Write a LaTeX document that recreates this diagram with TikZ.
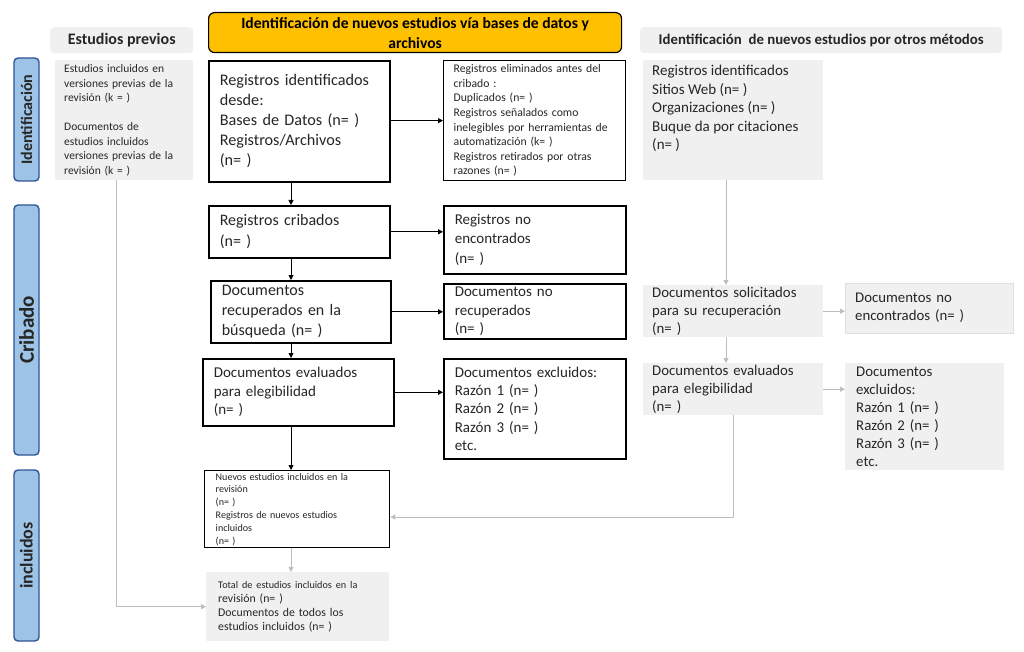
\documentclass[tikz,border=0pt]{standalone}
\usepackage{fontspec}
\setmainfont{Carlito}
\usetikzlibrary{arrows.meta}
\definecolor{gfill}{HTML}{F0F0F0}
\definecolor{gline}{HTML}{BDBDBD}
\definecolor{yel}{HTML}{FFC000}
\definecolor{bfill}{HTML}{9DC3E6}
\definecolor{bdraw}{HTML}{2F5597}
\definecolor{txt}{HTML}{262626}
\begin{document}
\begin{tikzpicture}[x=1pt,y=-1pt,
  every node/.style={text=txt},
  blk/.style={draw=black, line width=1.6pt, fill=white, anchor=north west, align=left, inner xsep=11pt, inner ysep=0pt},
  gbx/.style={fill=gfill, draw=none, anchor=north west, align=left, inner xsep=10pt, inner ysep=0pt},
  hdr/.style={fill=gfill, draw=none, rounded corners=4pt, anchor=north west, align=center, font=\bfseries},
  phase/.style={draw=bdraw, line width=1.4pt, fill=bfill, rounded corners=4pt, rotate=90, minimum height=25pt, inner sep=0pt},
  arr/.style={draw=black, line width=0.9pt, -{Triangle[length=5pt,width=5pt]}},
  garr/.style={draw=gline, line width=0.9pt, -{Triangle[length=5pt,width=5pt]}}
]
\useasboundingbox (0,0) rectangle (1024,652);

% helper coordinates for connector positions
\coordinate (xL) at (291,0);
\coordinate (xP) at (116,0);
\coordinate (xR) at (726,0);
\coordinate (yN) at (0,517);

% headers
\node[hdr, minimum width=143pt, minimum height=26pt, font=\fontsize{16}{18}\selectfont\bfseries] (hprev) at (50,27) {Estudios previos};
\node[draw=black, line width=1.2pt, fill=yel, rounded corners=6pt, anchor=north west, minimum width=413pt, minimum height=40pt, align=center, inner sep=0pt, font=\fontsize{15.6}{20}\selectfont\bfseries, text=black] (hdb) at (208,12) {Identificación de nuevos estudios vía bases de datos y\\archivos};
\node[hdr, minimum width=362pt, minimum height=26pt, font=\fontsize{14.8}{16}\selectfont\bfseries] (hoth) at (640,27) {Identificación\ \ de nuevos estudios por otros métodos};

% phase labels
\node[phase, minimum width=123pt, font=\fontsize{16}{18}\selectfont\bfseries] (pid) at (26.5,119.5) {Identificación};
\node[phase, minimum width=250pt, font=\fontsize{21}{22}\selectfont\bfseries] (pcr) at (26.5,330) {Cribado};
\node[phase, minimum width=171pt, font=\fontsize{18}{20}\selectfont\bfseries] (pin) at (26.5,555.5) {incluidos};

% previous studies
\node[gbx, minimum width=138pt, minimum height=120pt, text width=120pt, inner xsep=9pt, font=\fontsize{11.5}{14.5}\selectfont] (prev) at (55,60) {Estudios incluidos en\\versiones previas de la\\revisión (k = )\\[14.5pt]Documentos de\\estudios incluidos\\versiones previas de la\\revisión (k = )};

% databases column
\node[blk, minimum width=181pt, minimum height=121pt, text width=159pt, font=\fontsize{16.2}{20}\selectfont] (b1) at (208,60) {Registros identificados\\desde:\\Bases de Datos (n= )\\Registros/Archivos\\(n= )};
\node[blk, line width=1.3pt, minimum width=182pt, minimum height=120pt, text width=162pt, inner xsep=10pt, font=\fontsize{11.7}{14.6}\selectfont] (rem) at (443,60) {Registros eliminados antes del\\cribado :\\Duplicados (n= )\\Registros señalados como\\inelegibles por herramientas de\\automatización (k= )\\Registros retirados por otras\\razones (n= )};

\node[blk, minimum width=181pt, minimum height=52pt, text width=159pt, font=\fontsize{16}{21}\selectfont] (crib) at (208,205) {Registros cribados\\(n= )};
\node[blk, minimum width=182pt, minimum height=68pt, text width=160pt, font=\fontsize{15}{19.5}\selectfont] (rnf) at (443,205) {Registros no\\encontrados\\(n= )};

\node[blk, minimum width=180pt, minimum height=62pt, text width=158pt, font=\fontsize{16}{20}\selectfont] (rec) at (210,280) {Documentos\\recuperados en la\\búsqueda (n= )};
\node[blk, minimum width=182pt, minimum height=55pt, text width=160pt, font=\fontsize{15}{18.5}\selectfont] (rnr) at (443,283) {Documentos no\\recuperados\\(n= )};

\node[blk, minimum width=191pt, minimum height=67pt, text width=169pt, font=\fontsize{15}{18.5}\selectfont] (evl) at (202,358) {Documentos evaluados\\para elegibilidad\\(n= )};
\node[blk, minimum width=182pt, minimum height=100pt, text width=160pt, font=\fontsize{15}{18.3}\selectfont] (exl) at (443,358) {Documentos excluidos:\\Razón 1 (n= )\\Razón 2 (n= )\\Razón 3 (n= )\\etc.};

\node[blk, line width=1.4pt, minimum width=185pt, minimum height=77pt, text width=163pt, font=\fontsize{10.1}{12.8}\selectfont] (nue) at (204,470) {Nuevos estudios incluidos en la\\revisión\\(n= )\\Registros de nuevos estudios\\incluidos\\(n= )};

\node[gbx, minimum width=181pt, minimum height=69pt, text width=159pt, inner xsep=12pt, font=\fontsize{11.8}{14}\selectfont] (tot) at (206,572) {{\fontsize{10.2}{13}\selectfont Total de estudios incluidos en la}\\revisión (n= )\\Documentos de todos los\\estudios incluidos (n= )};

% other methods column
\node[gbx, minimum width=180pt, minimum height=120pt, inner sep=0pt] (rid) at (643,60) {\parbox[c][116pt][t]{162pt}{\vspace*{3pt}\fontsize{15}{18.5}\selectfont Registros identificados\\Sitios Web (n= )\\Organizaciones (n= )\\Buque da por citaciones\\(n= )}};

\node[gbx, minimum width=180pt, minimum height=52pt, text width=162pt, inner xsep=9pt, font=\fontsize{14.8}{18}\selectfont] (sol) at (643,285) {Documentos solicitados\\para su recuperación\\(n= )};
\node[gbx, draw=gray!25, minimum width=168pt, minimum height=50pt, text width=148pt, font=\fontsize{14.8}{18}\selectfont] (dne) at (845,283) {Documentos no\\encontrados (n= )};

\node[gbx, minimum width=180pt, minimum height=52pt, text width=162pt, inner xsep=9pt, font=\fontsize{14.8}{18}\selectfont] (evr) at (643,363) {Documentos evaluados\\para elegibilidad\\(n= )};
\node[gbx, minimum width=157pt, minimum height=107pt, text width=137pt, inner xsep=11pt, font=\fontsize{14.8}{18}\selectfont] (exr) at (845,363) {Documentos\\excluidos:\\Razón 1 (n= )\\Razón 2 (n= )\\Razón 3 (n= )\\etc.};

% black connectors
\draw[arr] (b1.east |- rem.west) -- (rem.west);
\draw[arr] (xL |- b1.south) -- (xL |- crib.north);
\draw[arr] (crib.east) -- (rnf.west |- crib.east);
\draw[arr] (xL |- crib.south) -- (xL |- rec.north);
\draw[arr] (rec.east) -- (rnr.west |- rec.east);
\draw[arr] (xL |- rec.south) -- (xL |- evl.north);
\draw[arr] (evl.east) -- (exl.west |- evl.east);
\draw[arr] (xL |- evl.south) -- (xL |- nue.north);

% gray connectors
\draw[garr] (xL |- nue.south) -- (xL |- tot.north);
\draw[garr] (xP |- prev.south) -- (xP |- tot.west) -- (tot.west);
\draw[garr] (xR |- rid.south) -- (xR |- sol.north);
\draw[garr] (sol.east) -- (dne.west |- sol.east);
\draw[garr] (xR |- sol.south) -- (xR |- evr.north);
\draw[garr] (evr.east) -- (exr.west |- evr.east);
\draw[garr] (evr.south) -- (evr.south |- yN) -- (nue.east |- yN);
\end{tikzpicture}
\end{document}
